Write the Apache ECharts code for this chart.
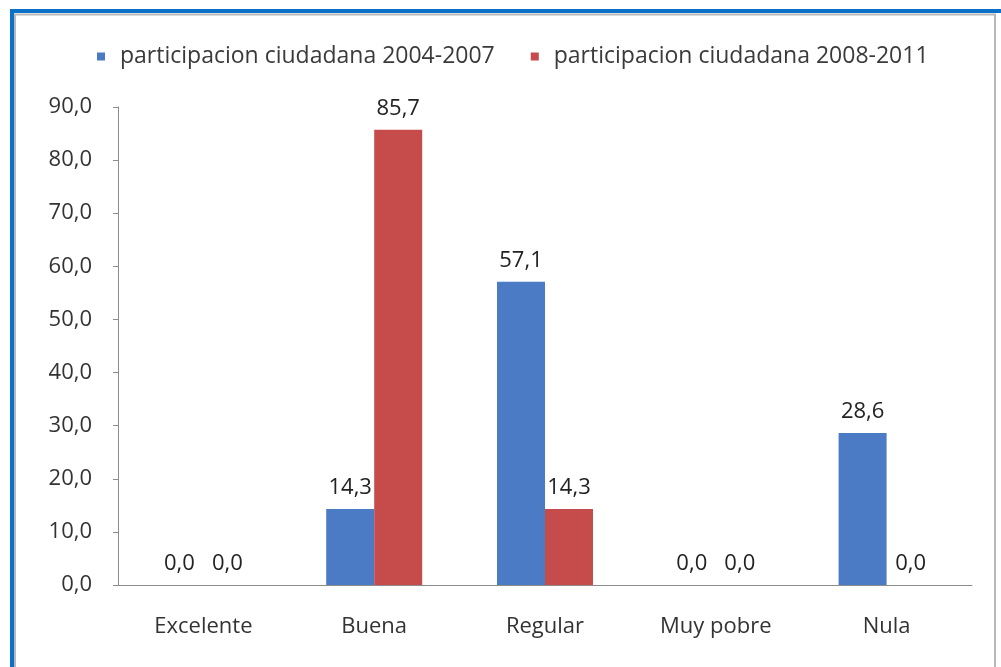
<!DOCTYPE html>
<html lang="es">
<head>
    <meta charset="UTF-8">
    <title>participacion ciudadana</title>
    <script src="https://cdn.jsdelivr.net/npm/echarts@6/dist/echarts.min.js"></script>
    <style>
        html, body { margin: 0; padding: 0; background: #ffffff; }
        #chart { width: 1001px; height: 667px; }
    </style>
</head>
<body>
<div id="chart"></div>
<script>
    const categories = ['Excelente', 'Buena', 'Regular', 'Muy pobre', 'Nula'];
    const seriesNames = ['participacion ciudadana 2004-2007', 'participacion ciudadana 2008-2011'];
    const values2004 = [0.0, 14.3, 57.1, 0.0, 28.6];
    const values2008 = [0.0, 85.7, 14.3, 0.0, 0.0];

    const fmt = v => v.toFixed(1).replace('.', ',');
    const font = '"Open Sans", Lato, sans-serif';

    const labelStyle = {
        show: true,
        position: 'top',
        distance: 10,
        color: '#222',
        fontSize: 22,
        fontFamily: font,
        formatter: p => fmt(p.value)
    };

    const chart = echarts.init(document.getElementById('chart'));
    chart.setOption({
        animation: false,
        graphic: [
            // marco azul del recuadro
            { type: 'rect', shape: { x: 12, y: 11, width: 1100, height: 800 },
              style: { fill: 'none', stroke: '#0a70c8', lineWidth: 4 } },
            { type: 'rect', shape: { x: 15, y: 14.5, width: 980, height: 800 },
              style: { fill: 'none', stroke: '#b8b8b8', lineWidth: 2 } }
        ],
        legend: {
            top: 40,
            left: 92,
            itemWidth: 8,
            itemHeight: 8,
            itemGap: 36,
            icon: 'rect',
            textStyle: { fontSize: 23, color: '#3a3a3a', fontFamily: font, padding: [0, 0, 0, 10] }
        },
        grid: { left: 118, right: 29, top: 107, bottom: 82 },
        xAxis: {
            type: 'category',
            data: categories,
            axisLine: { lineStyle: { color: '#8c8c8c' } },
            axisTick: { show: false },
            axisLabel: { margin: 31, fontSize: 22, color: '#333', fontFamily: font }
        },
        yAxis: {
            type: 'value',
            min: 0,
            max: 90,
            interval: 10,
            splitLine: { show: false },
            axisLine: { show: true, lineStyle: { color: '#8c8c8c' } },
            axisTick: { show: true, length: 5, lineStyle: { color: '#8c8c8c' } },
            axisLabel: { margin: 26, fontSize: 22, color: '#333', fontFamily: font, formatter: v => fmt(v) }
        },
        series: [
            {
                name: seriesNames[0],
                type: 'bar',
                data: values2004,
                barWidth: 48,
                barGap: '0%',
                itemStyle: { color: '#4a7bc4' },
                label: labelStyle
            },
            {
                name: seriesNames[1],
                type: 'bar',
                data: values2008,
                barWidth: 48,
                itemStyle: { color: '#c64b4b' },
                label: labelStyle
            }
        ]
    });
</script>
</body>
</html>
